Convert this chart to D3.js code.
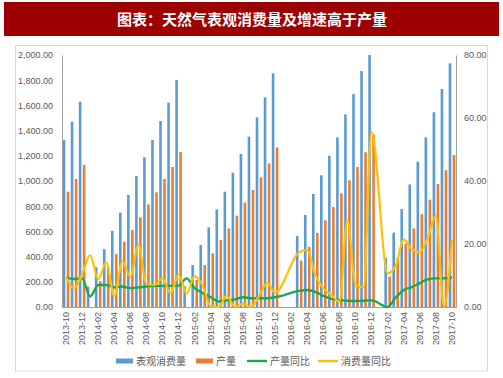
<!DOCTYPE html>
<html><head><meta charset="utf-8">
<script src="https://cdn.jsdelivr.net/npm/d3@7"></script>
<style>
html,body{margin:0;padding:0;background:#fff;}
svg{display:block;}
</style></head>
<body>
<script>
const categories = ["2013-10","2013-11","2013-12",
 "2014-01","2014-02","2014-03","2014-04","2014-05","2014-06","2014-07","2014-08","2014-09","2014-10","2014-11","2014-12",
 "2015-01","2015-02","2015-03","2015-04","2015-05","2015-06","2015-07","2015-08","2015-09","2015-10","2015-11","2015-12",
 "2016-01","2016-02","2016-03","2016-04","2016-05","2016-06","2016-07","2016-08","2016-09","2016-10","2016-11","2016-12",
 "2017-01","2017-02","2017-03","2017-04","2017-05","2017-06","2017-07","2017-08","2017-09","2017-10"];
const tickLabels = ["2013-10","2013-12","2014-02","2014-04","2014-06","2014-08","2014-10","2014-12",
 "2015-02","2015-04","2015-06","2015-08","2015-10","2015-12","2016-02","2016-04","2016-06","2016-08",
 "2016-10","2016-12","2017-02","2017-04","2017-06","2017-08","2017-10"];
// 表观消费量 (亿立方米, 累计)
const consumption = [1325,1471,1629,
 161,316,459,604,749,889,1040,1188,1325,1476,1622,1802,
 165,333,492,632,775,915,1066,1214,1352,1505,1664,1855,
 null,null,563,730,897,1045,1201,1347,1529,1690,1873,2000,
 null,392,590,778,972,1153,1347,1545,1730,1934];
// 产量
const production = [915,1016,1127,
 null,205,310,420,518,611,712,815,910,1016,1111,1230,
 null,215,333,426,532,624,725,828,929,1029,1140,1267,
 null,null,368,477,588,688,794,902,1005,1111,1228,1368,
 null,241,386,503,624,737,852,976,1085,1206];
// 产量同比 (%)
const prodYoY = [9.4,8.9,9.1,
 3.3,7.0,7.0,6.2,6.5,6.0,6.2,6.5,6.7,6.7,6.7,6.8,
 9.1,6.0,4.4,3.1,1.8,2.1,2.4,3.1,2.8,2.8,2.8,3.1,
 null,null,5.1,5.4,4.8,3.5,2.6,2.2,2.0,1.9,2.0,2.1,
 null,0,3.0,5.4,6.3,7.6,8.8,9.1,9.1,9.4];
// 消费量同比 (%)
const consYoY = [9.6,5.9,10.4,
 16.5,8.8,14.2,3.4,14.4,9.6,19.7,7.3,7.0,9.1,4.3,10.4,
 4.3,9.8,6.8,0.2,0,3.6,0,1.0,0,3.5,7.6,4.6,
 null,null,17.4,18.1,10.2,5.9,3.8,1.7,27.7,7.0,6.2,55.5,
 null,10.7,13.1,21.5,18.3,17.4,22,29,0,21.3];
const leftTicks = [0,200,400,600,800,1000,1200,1400,1600,1800,2000];
const rightTicks = [0,20,40,60,80];
const seriesNames = ["表观消费量","产量","产量同比","消费量同比"];
const colors = ["#5B9BD5","#ED7D31","#1BA94C","#FFC000"];

const W = 503, H = 378;
const svg = d3.select("body").append("svg").attr("width", W).attr("height", H);
const font = "'Liberation Sans', Arial, sans-serif";
const cjk = "'Noto Sans CJK SC', sans-serif";

// title bar
svg.append("rect").attr("x",4).attr("y",2).attr("width",495).attr("height",34).attr("fill","#9C0000");
svg.append("text").attr("x",252).attr("y",25).attr("text-anchor","middle")
  .attr("fill","#fff").attr("font-family",cjk).attr("font-weight","bold").attr("font-size",15)
  .text("图表：天然气表观消费量及增速高于产量");

// chart frame
svg.append("rect").attr("x",15.5).attr("y",45.5).attr("width",472).attr("height",325.5)
  .attr("fill","none").attr("stroke","#d9d9d9");

const x0 = 62, x1 = 456, yB = 307, yT = 55;
const x = d3.scaleBand().domain(categories).range([x0, x1]);
const yL = d3.scaleLinear().domain([0,2000]).range([yB, yT]);
const yR = d3.scaleLinear().domain([0,80]).range([yB, yT]);

const bw = 2.6;
const g = svg.append("g");
const bars = (vals, off, col) => g.append("g").selectAll("rect")
  .data(categories.map((c,i)=>({c, v: vals[i]})).filter(d=>d.v!=null))
  .join("rect")
  .attr("x", d => x(d.c) + x.bandwidth()/2 + off)
  .attr("y", d => yL(d.v))
  .attr("width", bw)
  .attr("height", d => yB - yL(d.v))
  .attr("fill", col);
bars(consumption, -3.3, colors[0]);
bars(production, 0.7, colors[1]);

// axes
const axL = d3.axisLeft(yL).tickValues(leftTicks).tickFormat(d3.format(",.2f")).tickSize(0).tickPadding(9);
const gl = svg.append("g").attr("transform",`translate(${x0},0)`).call(axL);
const axR = d3.axisRight(yR).tickValues(rightTicks).tickFormat(d3.format(".2f")).tickSize(0).tickPadding(8);
const gr = svg.append("g").attr("transform",`translate(${x1},0)`).call(axR);
const axB = d3.axisBottom(x).tickValues(tickLabels).tickSize(0).tickPadding(0);
const gb = svg.append("g").attr("transform",`translate(0,${yB})`).call(axB);
[gl,gr,gb].forEach(a=>{
  a.selectAll("text").attr("font-family",font).attr("font-size",9).attr("fill","#595959");
  a.select(".domain").attr("stroke","#a0a0a0").attr("stroke-width",1);
});
gb.selectAll(".tick text").attr("transform","rotate(-90)").attr("text-anchor","end")
  .attr("dy","0.32em").attr("x",-5).attr("y",0);

// lines
const lineGen = d3.line().x(d => x(d.c) + x.bandwidth()/2).y(d => yR(d.v)).curve(d3.curveMonotoneX);
const mk = vals => categories.map((c,i)=>({c, v: vals[i]})).filter(d=>d.v!=null);
svg.append("path").attr("d", lineGen(mk(prodYoY))).attr("fill","none")
  .attr("stroke", colors[2]).attr("stroke-width",2.4).attr("stroke-linejoin","round");
svg.append("path").attr("d", lineGen(mk(consYoY))).attr("fill","none")
  .attr("stroke", colors[3]).attr("stroke-width",2.2).attr("stroke-linejoin","round");

// legend
const ly = 361;
const leg = svg.append("g").attr("font-family",cjk).attr("font-size",10).attr("fill","#595959");
const items = [
  {type:"rect", x:116, tx:136, name:seriesNames[0], col:colors[0]},
  {type:"rect", x:196, tx:216, name:seriesNames[1], col:colors[1]},
  {type:"line", x:247, tx:270, name:seriesNames[2], col:colors[2]},
  {type:"line", x:318, tx:341, name:seriesNames[3], col:colors[3]}
];
items.forEach(it=>{
  if(it.type==="rect"){
    leg.append("rect").attr("x",it.x).attr("y",ly-2.5).attr("width",17).attr("height",5).attr("fill",it.col);
  } else {
    leg.append("line").attr("x1",it.x).attr("x2",it.x+20).attr("y1",ly).attr("y2",ly)
      .attr("stroke",it.col).attr("stroke-width",2.4);
  }
  leg.append("text").attr("x",it.tx).attr("y",ly+3.5).text(it.name);
});
</script>
</body></html>
